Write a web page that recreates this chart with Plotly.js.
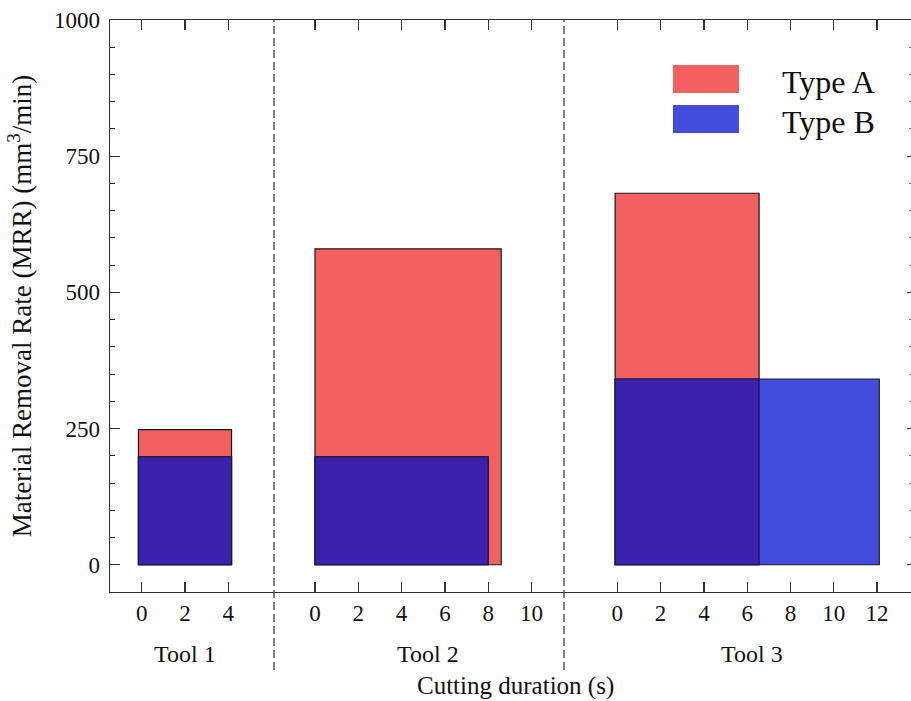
<!DOCTYPE html>
<html>
<head>
<meta charset="utf-8">
<script src="https://cdn.plot.ly/plotly-3.0.1.min.js"></script>
<style>html,body{margin:0;padding:0;background:#fff;}#chart{width:911px;height:701px;}</style>
</head>
<body>
<div id="chart"></div>
<script>
// ---- data ----
const tools = ['Tool 1', 'Tool 2', 'Tool 3'];
const seriesNames = ['Type A', 'Type B'];
const startA = [-0.15, 0, -0.1];      // cutting start (s)
const endA = [4.15, 8.6, 6.55];       // cutting end (s)
const mrrA = [248, 580, 682];         // MRR (mm^3/min)
const startB = [-0.15, 0, -0.1];
const endB = [4.15, 8.0, 12.1];
const mrrB = [198, 198, 341];
const xTickVals = [[0, 2, 4], [0, 2, 4, 6, 8, 10], [0, 2, 4, 6, 8, 10, 12]];
const yTickVals = [0, 250, 500, 750, 1000];

// ---- styles ----
const colA = '#F26060';
const colB = '#424DDD';
const colAB = '#3D20AB';
const FONT = 'Liberation Serif, Times New Roman, serif';
const axSuffix = ['', '2', '3'];

const traces = [];
function barTrace(i, x0, x1, h, color, lineColor, name) {
  return {
    type: 'bar', name: name, showlegend: false,
    x: [(x0 + x1) / 2], width: [x1 - x0], y: [h],
    xaxis: 'x' + axSuffix[i], yaxis: 'y',
    marker: {color: color, line: {color: lineColor, width: 1.2}},
    hoverinfo: 'skip'
  };
}
for (let i = 0; i < tools.length; i++) {
  traces.push(barTrace(i, startA[i], endA[i], mrrA[i], colA, '#1a1a1a', seriesNames[0]));
  traces.push(barTrace(i, startB[i], endB[i], mrrB[i], colB, '#1a1a1a', seriesNames[1]));
  // overlap of the two series (derived from the data above)
  const o0 = Math.max(startA[i], startB[i]);
  const o1 = Math.min(endA[i], endB[i]);
  const oh = Math.min(mrrA[i], mrrB[i]);
  traces.push(barTrace(i, o0, o1, oh, colAB, '#1c1650', 'overlap'));
}
traces.push({type: 'scatter', x: [], y: [], xaxis: 'x3', yaxis: 'y2', showlegend: false, hoverinfo: 'skip'});

const plotL = 110, plotR = 911, plotT = 20, plotB = 592;
const W = plotR - plotL, H = plotB - plotT;
const px2x = p => (p - plotL) / W;
const px2y = p => (plotB - p) / H;
const bounds = [0, px2x(274), px2x(564), 1];
const ranges = [[-1.464, 6.111], [-1.894, 11.501], [-2.462, 13.566]];

const layout = {
  width: 911, height: 701,
  margin: {l: plotL, r: 911 - plotR, t: plotT, b: 701 - plotB, pad: 0},
  paper_bgcolor: '#fff', plot_bgcolor: '#fff',
  barmode: 'overlay', bargap: 0,
  font: {family: FONT, color: '#111', size: 23},
  showlegend: false,
  yaxis: {
    range: [-50, 1000], tickvals: yTickVals, ticks: 'inside', ticklen: 10, tickwidth: 1.3,
    tickcolor: '#333', showline: true, linecolor: '#333', linewidth: 1.3, showgrid: false,
    zeroline: false, anchor: 'x', ticklabelstandoff: 4,
    tickfont: {family: FONT, size: 23, color: '#111'},
    minor: {dtick: 50, tick0: 0, ticks: 'inside', ticklen: 5, tickcolor: '#333', tickwidth: 1, showgrid: false},
    title: {text: 'Material Removal Rate (MRR) (mm<sup>3</sup>/min)', font: {family: FONT, size: 27, color: '#111'}, standoff: 14}
  },
  yaxis2: {
    range: [-50, 1000], overlaying: 'y', anchor: 'x3', side: 'right',
    tickvals: yTickVals, ticks: 'inside', ticklen: 4, tickcolor: '#333',
    showticklabels: false, showline: false, showgrid: false, zeroline: false,
    minor: {dtick: 50, ticks: 'inside', ticklen: 2, tickcolor: '#666', showgrid: false}
  },
  shapes: [],
  annotations: []
};
for (let i = 0; i < 3; i++) {
  layout['xaxis' + axSuffix[i]] = {
    domain: [bounds[i], bounds[i + 1]], range: ranges[i], anchor: 'y',
    tickvals: xTickVals[i], ticks: 'inside', ticklen: 10, tickwidth: 1.3, tickcolor: '#333',
    showline: true, linecolor: '#333', linewidth: 1.3, mirror: 'ticks',
    showgrid: false, zeroline: false, ticklabelstandoff: 0,
    tickfont: {family: FONT, size: 23, color: '#111'}
  };
}
// tool labels
const toolLabelX = [2, 5.2, 6.2];
for (let i = 0; i < 3; i++) {
  layout.annotations.push({
    text: tools[i], xref: 'x' + axSuffix[i], yref: 'paper', x: toolLabelX[i], y: px2y(654),
    xanchor: 'center', yanchor: 'middle', showarrow: false,
    font: {family: FONT, size: 24, color: '#111'}
  });
}
layout.annotations.push({
  text: 'Cutting duration (s)', xref: 'paper', yref: 'paper', x: px2x(515), y: px2y(686),
  xanchor: 'center', yanchor: 'middle', showarrow: false,
  font: {family: FONT, size: 25, color: '#111'}
});
// dashed separators
[1, 2].forEach(k => {
  layout.shapes.push({
    type: 'line', xref: 'paper', yref: 'paper', x0: bounds[k], x1: bounds[k], y0: px2y(670), y1: 1,
    line: {color: '#555', width: 1.5, dash: '8px,4px'}
  });
});
// legend (drawn manually to match large swatches)
const legCols = [colA, colB];
const legY = [80, 120];
for (let j = 0; j < 2; j++) {
  layout.shapes.push({
    type: 'rect', xref: 'paper', yref: 'paper',
    x0: px2x(673), x1: px2x(739), y0: px2y(legY[j] + 13), y1: px2y(legY[j] - 15),
    fillcolor: legCols[j], line: {width: 0}
  });
  layout.annotations.push({
    text: seriesNames[j], xref: 'paper', yref: 'paper', x: px2x(780), y: px2y(legY[j] + 2),
    xanchor: 'left', yanchor: 'middle', showarrow: false,
    font: {family: FONT, size: 32, color: '#111'}
  });
}

Plotly.newPlot('chart', traces, layout, {staticPlot: true, displayModeBar: false});
</script>
</body>
</html>
